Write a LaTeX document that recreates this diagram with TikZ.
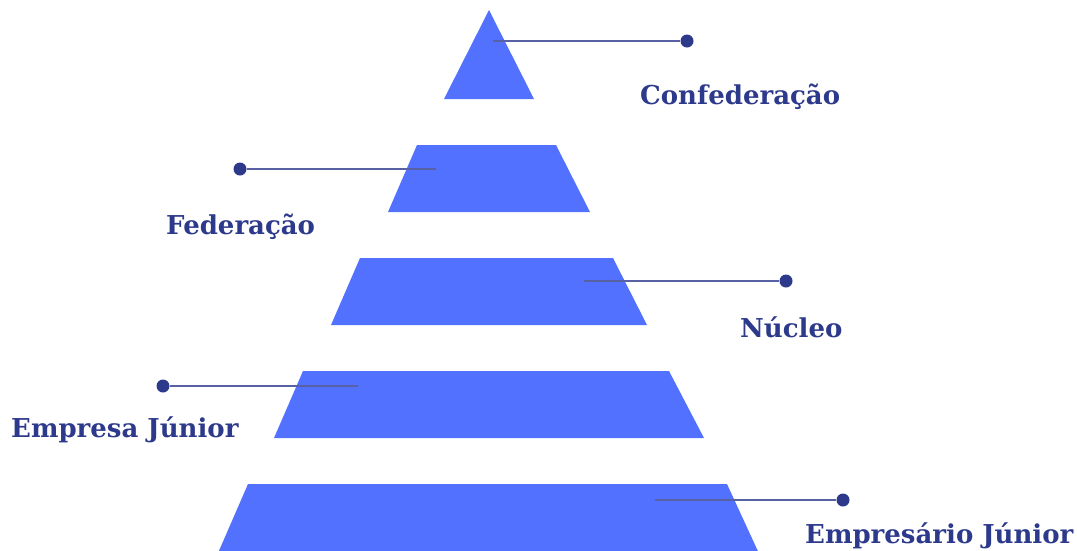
\documentclass[tikz,border=0pt]{standalone}
\usepackage{fontspec}
\setmainfont{DejaVu Serif}
\definecolor{tierblue}{HTML}{5271FF}
\definecolor{navy}{HTML}{2D3A8C}
\begin{document}
\begin{tikzpicture}[
  x=1pt, y=-1pt,
  tier/.style={fill=tierblue},
  dotnode/.style={circle, fill=navy, inner sep=0pt, minimum size=13pt},
  leader/.style={draw=navy!80, line width=1.4pt},
  tierlbl/.style={anchor=base west, text=navy, font={\bfseries\fontsize{26}{30}\selectfont}, inner sep=0pt}
]
\useasboundingbox (0,0) rectangle (1077,550);
\clip (0,0) rectangle (1077,550);
% pyramid tiers
\fill[tier] (489,10) -- (534,99) -- (444,99) -- cycle;
\fill[tier] (417,145) -- (556,145) -- (590,212) -- (388,212) -- cycle;
\fill[tier] (360,258) -- (613,258) -- (647,325) -- (331,325) -- cycle;
\fill[tier] (303,371) -- (669,371) -- (704,438) -- (274,438) -- cycle;
\fill[tier] (248,484) -- (727,484) -- (762,560) -- (215,560) -- cycle;
% leader ends inside the tiers
\coordinate (c1) at (493,41);
\coordinate (c2) at (436,169);
\coordinate (c3) at (584,281);
\coordinate (c4) at (358,386);
\coordinate (c5) at (655,500);
% dots
\node[dotnode] (d1) at (687,41) {};
\node[dotnode] (d2) at (240,169) {};
\node[dotnode] (d3) at (786,281) {};
\node[dotnode] (d4) at (163,386) {};
\node[dotnode] (d5) at (843,500) {};
\draw[leader] (c1) -- (d1);
\draw[leader] (c2) -- (d2);
\draw[leader] (c3) -- (d3);
\draw[leader] (c4) -- (d4);
\draw[leader] (c5) -- (d5);
% labels
\node[tierlbl] (l1) at (640,104) {Confederação};
\node[tierlbl] (l2) at (166,234) {Federação};
\node[tierlbl] (l3) at (740,337) {Núcleo};
\node[tierlbl] (l4) at (11,437) {Empresa Júnior};
\node[tierlbl] (l5) at (805,543) {Empresário Júnior};
\end{tikzpicture}
\end{document}
